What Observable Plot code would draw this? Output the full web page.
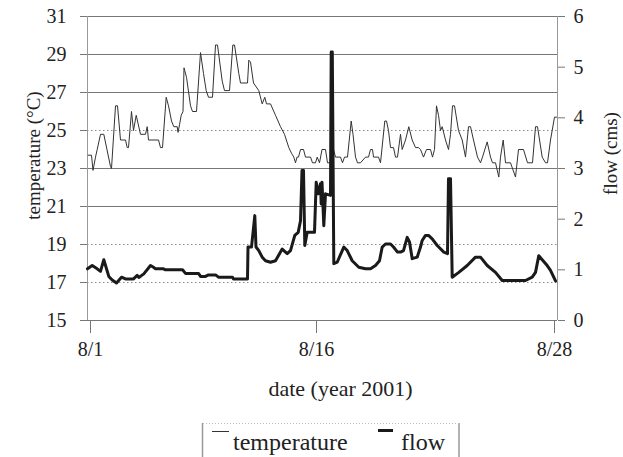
<!DOCTYPE html>
<html><head><meta charset="utf-8">
<script src="https://cdn.jsdelivr.net/npm/d3@7"></script>
<script src="https://cdn.jsdelivr.net/npm/@observablehq/plot@0.6"></script>
<style>
body{margin:0;background:#fff;}
#wrap{position:relative;width:623px;height:457px;overflow:hidden;font-family:'Liberation Serif','DejaVu Serif',serif;color:#222;background:#fff;}
#chart{position:absolute;left:0;top:0;}
#legend{position:absolute;left:0;top:0;}
#wrap text{font-family:'Liberation Serif','DejaVu Serif',serif;}
</style></head><body>
<div id="wrap"><div id="chart"></div>
<svg id="legend" width="623" height="457" style="pointer-events:none">
  <line x1="202.5" y1="423" x2="202.5" y2="457" stroke="#999" stroke-width="1.5"/>
  <line x1="459" y1="423" x2="459" y2="457" stroke="#999" stroke-width="1.5"/>
  <line x1="203" y1="423.5" x2="459" y2="423.5" stroke="#bbb" stroke-width="1" stroke-dasharray="1,2"/>
  <line x1="212" y1="431.5" x2="229" y2="431.5" stroke="#333" stroke-width="1"/>
  <text x="233" y="450" font-size="24" fill="#222">temperature</text>
  <line x1="378" y1="430.5" x2="393" y2="430.5" stroke="#1a1a1a" stroke-width="3"/>
  <text x="401" y="450" font-size="24" fill="#222">flow</text>
</svg>
</div>
<script>
// x = sample index along the record (category-like axis of the original chart)
const tempIdx = [0.7,4,5.5,8,9.7,13,16.3,23,24,28,30,33,38,39.7,41,44,46,48.7,53,58,59.7,61,71,73,75,78.7,81,84,86.3,89.7,90.5,92,93.7,95.5,96.5,99,103,105,109,113,116,118.7,121,125,128,130,134.7,137,142,145.3,147,151.3,153,160,161.3,163,166,171.3,174.7,177.3,179,183,188,193,197,201.3,204,206.3,208,209.5,211,213,216,218,223,225,228,229.7,232,234.5,238,240,243,246,248,253,255,257,260,263.7,265.5,268,270,273,278,281,283,285,286,291,293,297.3,299,301,303,306,308,310,313,314.7,318,321.3,324.7,328,331,333,336,339,343,345,347,349,351,353,354.7,358,361,363,365,367,371,374.7,378,381,383,386,390,393,395,399.7,403,405,408,411.3,413,415.7,418,423,428,431,436,440,445,448,450,454.7,458,460,463,467,469];
const tempVal = [23.7,23.7,22.9,23.6,24.0,24.8,24.8,23.1,23.0,26.3,26.3,24.5,24.5,24.1,24.1,26.0,25.0,25.8,24.8,24.8,25.2,24.5,24.5,24.1,24.1,26.75,26.3,25.5,25.2,25.2,24.9,25.3,25.8,26.0,28.3,27.8,26.3,26.0,26.0,29.1,28.0,27.1,26.75,26.75,29.5,29.5,27.6,27.1,27.1,29.5,29.5,28.0,27.5,27.5,28.7,28.6,27.5,27.1,26.4,26.75,26.4,26.4,25.8,25.2,24.8,24.1,23.8,23.6,23.3,23.6,23.6,24.0,24.0,23.6,23.6,23.3,23.3,23.6,23.3,24.0,24.0,23.3,23.3,24.0,23.6,23.6,23.3,23.6,23.6,25.5,24.8,23.6,23.3,23.3,23.6,23.6,24.0,24.0,23.6,23.6,23.3,25.5,25.5,25.0,24.1,24.1,23.6,23.6,24.8,24.0,24.5,25.2,24.5,24.1,24.1,24.0,23.6,24.0,24.0,23.6,24.0,26.3,25.8,25.0,25.2,24.5,24.0,24.8,26.3,26.3,25.0,24.5,23.6,25.2,25.2,24.5,23.6,23.3,23.6,24.4,23.6,23.3,23.3,22.55,23.6,24.5,23.3,23.3,22.55,24.0,24.0,23.3,23.3,25.2,25.2,23.6,23.3,23.3,24.5,25.7,25.7];
const flowIdx = [0,4.7,9.7,13,16.3,21.3,24.7,29,34,38,46,49.7,51.3,56.3,63,66,68,76,78,95,98,111,113,118,121,128,131,145,146,160,160.5,164,167.3,168.5,171.3,174.7,178,183,188,194.7,199.7,203,207.3,210.7,213,214.5,216,217.3,219.7,227,228.7,230.7,233,233.7,234.5,236.3,238,243,243.7,244.8,246.3,249.7,256.3,259.7,264.7,271.3,278,283,288,292,294.7,298,303,306,310,313,316,319.7,322,324.7,329.7,333,334.7,338,341,344.7,349.7,356.3,360,361,363,364.7,371.3,379.7,388,393,399.7,408,414.7,438,444.7,448,451.3,454.7,459.7,463,468];
const flowVal = [1.02,1.085,1.02,0.97,1.2,0.87,0.8,0.74,0.855,0.82,0.82,0.89,0.85,0.92,1.085,1.05,1.02,1.02,1.0,1.0,0.93,0.93,0.87,0.87,0.9,0.9,0.855,0.855,0.82,0.82,1.45,1.45,2.07,1.45,1.38,1.25,1.18,1.15,1.18,1.41,1.32,1.38,1.68,1.74,1.97,2.96,2.96,1.48,1.74,1.74,2.73,2.5,2.7,2.3,2.73,1.87,2.5,2.47,5.3,5.3,1.12,1.15,1.45,1.38,1.18,1.05,1.02,1.02,1.085,1.18,1.45,1.51,1.51,1.45,1.35,1.35,1.38,1.64,1.55,1.22,1.25,1.45,1.58,1.68,1.68,1.61,1.48,1.35,1.32,2.8,2.8,0.855,0.95,1.085,1.25,1.25,1.085,0.95,0.79,0.79,0.855,0.95,1.28,1.2,1.085,0.99,0.78];

const tempTicks = [15,17,19,21,23,25,27,29,31];
const flowTicks = [0,1,2,3,4,5,6];
const dateTickIdx = [3,229,467];
const dateTickLabels = ["8/1","8/16","8/28"];
const solidGrid = [31,29,27,23,21];
const dottedGrid = [25,19,17];

const tMin = 15, tMax = 31, fMax = 6;
const f2t = f => tMin + f * (tMax - tMin) / fMax;
const t2f = t => Math.round((t - tMin) * fMax / (tMax - tMin));

const temp = tempIdx.map((x, i) => ({x, y: tempVal[i]}));
const flow = flowIdx.map((x, i) => ({x, y: f2t(flowVal[i])}));
const serif = "'Liberation Serif','DejaVu Serif',serif";

const chart = Plot.plot({
  width: 623, height: 420,
  marginLeft: 87, marginRight: 66, marginTop: 16, marginBottom: 100,
  style: {fontFamily: serif, fontSize: "20px", color: "#222", background: "white", overflow: "visible"},
  x: {domain: [0, 470]},
  y: {domain: [tMin, tMax]},
  marks: [
    Plot.ruleY(dottedGrid, {stroke: "#8a8a8a", strokeWidth: 1, strokeDasharray: "1.5,2.5"}),
    Plot.ruleY(solidGrid, {stroke: "#777", strokeWidth: 1}),
    Plot.ruleY([tMin], {stroke: "#777", strokeWidth: 1}),
    Plot.ruleX([0, 470], {stroke: "#999", strokeWidth: 1}),
    Plot.line(temp, {x: "x", y: "y", stroke: "#333", strokeWidth: 1}),
    Plot.line(flow, {x: "x", y: "y", stroke: "#1a1a1a", strokeWidth: 3, strokeLinejoin: "round"}),
    Plot.axisY(tempTicks, {anchor: "left", tickSize: 7, tickPadding: 14, label: null, stroke: "#777", fill: "#222", fontSize: 20}),
    Plot.axisY(flowTicks.map(f2t), {anchor: "right", tickSize: 7, tickPadding: 9, label: null, stroke: "#777", fill: "#222", fontSize: 20, tickFormat: t2f}),
    Plot.axisX(dateTickIdx, {anchor: "bottom", tickSize: 13, tickPadding: 8, label: null, stroke: "#777", fill: "#222", fontSize: 20,
      tickFormat: d => dateTickLabels[dateTickIdx.indexOf(d)]}),
    Plot.text(["temperature (°C)"], {frameAnchor: "left", textAnchor: "middle", rotate: -90, dx: -54, dy: -13, fontSize: 19, fill: "#222"}),
    Plot.text(["flow (cms)"], {frameAnchor: "right", textAnchor: "middle", rotate: -90, dx: 53, dy: -15, fontSize: 19, fill: "#222"}),
    Plot.text(["date (year 2001)"], {frameAnchor: "bottom", dx: 18, dy: 75, fontSize: 22, fill: "#222"})
  ]
});
document.getElementById("chart").appendChild(chart);
</script>
</body></html>
